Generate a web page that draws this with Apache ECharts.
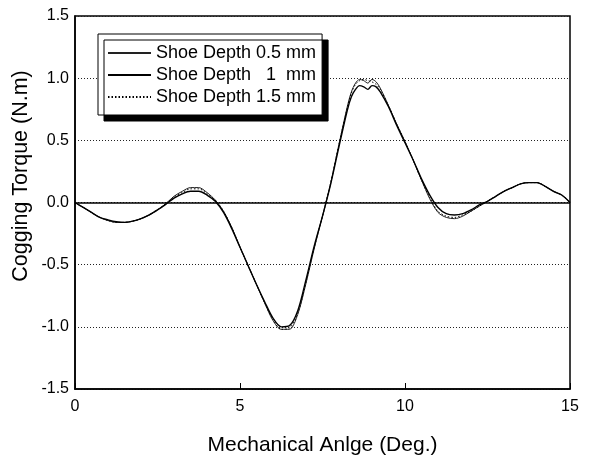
<!DOCTYPE html>
<html>
<head>
<meta charset="utf-8">
<script src="https://cdn.jsdelivr.net/npm/echarts@6/dist/echarts.min.js"></script>
<style>
  html, body { margin: 0; padding: 0; background: #fff; }
  #chart { width: 590px; height: 461px; }
</style>
</head>
<body>
<div id="chart"></div>
<script>
// Mechanical angle (deg), finer sampling around the main peak
const angles = [
  0, 0.25, 0.5, 0.75, 1, 1.25, 1.5, 1.75, 2, 2.25, 2.5, 2.75, 3, 3.25, 3.5, 3.75,
  4, 4.25, 4.5, 4.75, 5, 5.25, 5.5, 5.75, 6, 6.25, 6.5, 6.75, 7, 7.25, 7.5, 7.75,
  8, 8.25, 8.375, 8.5, 8.625, 8.75, 8.875, 9, 9.125, 9.25,
  9.5, 9.75, 10, 10.25, 10.5, 10.75, 11, 11.25, 11.5, 11.75, 12, 12.25, 12.5, 12.75,
  13, 13.25, 13.5, 13.75, 14, 14.25, 14.5, 14.75, 15
];

// Cogging torque (N.m) for each shoe depth
const torque05 = [
  0, -0.04, -0.08, -0.12, -0.145, -0.16, -0.16, -0.15, -0.13, -0.10, -0.06, -0.01, 0.05, 0.09, 0.12, 0.12,
  0.08, 0.02, -0.07, -0.20, -0.36, -0.51, -0.66, -0.81, -0.95, -1.02, -1.02, -0.90, -0.65, -0.37, -0.11, 0.16,
  0.47, 0.77, 0.89, 0.96, 0.99, 0.98, 0.96, 0.99, 0.97, 0.92,
  0.78, 0.63, 0.49, 0.34, 0.18, 0.03, -0.08, -0.12, -0.13, -0.11, -0.07, -0.03, 0.01, 0.05,
  0.09, 0.12, 0.15, 0.16, 0.16, 0.13, 0.09, 0.06, 0
];
const torque10 = [
  0, -0.04, -0.08, -0.12, -0.14, -0.155, -0.16, -0.15, -0.13, -0.10, -0.06, -0.015, 0.035, 0.07, 0.09, 0.09,
  0.06, 0.01, -0.08, -0.21, -0.36, -0.51, -0.66, -0.80, -0.93, -1.00, -0.99, -0.87, -0.62, -0.35, -0.11, 0.15,
  0.45, 0.74, 0.85, 0.91, 0.94, 0.93, 0.91, 0.94, 0.93, 0.89,
  0.77, 0.62, 0.48, 0.34, 0.19, 0.06, -0.04, -0.09, -0.10, -0.09, -0.06, -0.02, 0.01, 0.05,
  0.09, 0.12, 0.15, 0.16, 0.16, 0.13, 0.09, 0.06, 0
];
const torque15 = [
  0, -0.04, -0.08, -0.12, -0.145, -0.16, -0.16, -0.15, -0.13, -0.10, -0.06, -0.01, 0.045, 0.08, 0.11, 0.11,
  0.07, 0.02, -0.07, -0.20, -0.36, -0.51, -0.66, -0.81, -0.94, -1.02, -1.01, -0.89, -0.64, -0.36, -0.11, 0.16,
  0.47, 0.76, 0.88, 0.95, 0.98, 0.99, 0.98, 0.97, 0.95, 0.91,
  0.78, 0.63, 0.49, 0.34, 0.18, 0.04, -0.07, -0.11, -0.12, -0.10, -0.07, -0.03, 0.01, 0.05,
  0.09, 0.12, 0.15, 0.16, 0.16, 0.13, 0.09, 0.06, 0
];

const seriesNames = ['Shoe Depth 0.5 mm', 'Shoe Depth   1  mm', 'Shoe Depth 1.5 mm'];

const xTicks = { min: 0, max: 15, interval: 5 };
const yTicks = { min: -1.5, max: 1.5, interval: 0.5 };

const FONT = 'Arial, "Liberation Sans", sans-serif';

function pairs(vals) {
  return angles.map((a, i) => [a, vals[i]]);
}

const chart = echarts.init(document.getElementById('chart'), null, { renderer: 'canvas' });

chart.setOption({
  animation: false,
  backgroundColor: '#fff',
  grid: {
    left: 75, right: 20, top: 16, bottom: 72,
    show: true, borderColor: '#000', borderWidth: 1.5, backgroundColor: 'transparent'
  },
  legend: {
    orient: 'vertical',
    left: 98, top: 34,
    padding: [10, 6, 9, 9],
    itemWidth: 43, itemHeight: 14, itemGap: 4, itemTextGap: 5,
    backgroundColor: '#fff',
    borderColor: '#000', borderWidth: 1,
    shadowColor: '#000', shadowBlur: 0, shadowOffsetX: 6, shadowOffsetY: 6,
    itemStyle: { opacity: 0 },
    textStyle: { fontFamily: FONT, fontSize: 18, color: '#000' },
    data: seriesNames
  },
  // vertical y-axis title, placed slightly above the plot's centre line
  graphic: [{
    type: 'text',
    x: 21, y: 176,
    rotation: Math.PI / 2,
    style: {
      text: 'Cogging Torque (N.m)',
      fontFamily: FONT, fontSize: 21.5, fill: '#000',
      align: 'center', verticalAlign: 'middle'
    }
  }],
  xAxis: {
    type: 'value',
    min: xTicks.min, max: xTicks.max, interval: xTicks.interval,
    name: 'Mechanical Anlge (Deg.)',
    nameLocation: 'middle', nameGap: 46,
    nameTextStyle: { fontFamily: FONT, fontSize: 21, color: '#000' },
    axisLine: { show: true, onZero: false, lineStyle: { color: '#000', width: 1.5 } },
    axisTick: { show: true, inside: true, length: 6, lineStyle: { color: '#000', width: 1 } },
    axisLabel: { fontFamily: FONT, fontSize: 16, color: '#000', margin: 10 },
    splitLine: { show: false }
  },
  yAxis: {
    type: 'value',
    min: yTicks.min, max: yTicks.max, interval: yTicks.interval,
    axisLine: { show: true, onZero: false, lineStyle: { color: '#000', width: 1.5 } },
    axisTick: { show: false },
    axisLabel: {
      fontFamily: FONT, fontSize: 16, color: '#000', margin: 6,
      formatter: v => v.toFixed(1)
    },
    splitLine: { show: true, lineStyle: { color: '#222', width: 1, type: [1, 2] } }
  },
  series: [
    {
      name: seriesNames[0], type: 'line', data: pairs(torque05),
      symbol: 'none', smooth: 0.3,
      lineStyle: { color: '#222', width: 1 },
      itemStyle: { color: '#222' },
      markLine: {
        silent: true, symbol: 'none', label: { show: false },
        lineStyle: { color: '#000', width: 1.5, type: 'solid' },
        data: [{ yAxis: 0 }]
      },
      z: 3
    },
    {
      name: seriesNames[1], type: 'line', data: pairs(torque10),
      symbol: 'none', smooth: 0.3,
      lineStyle: { color: '#000', width: 1.4 },
      itemStyle: { color: '#000' },
      z: 4
    },
    {
      name: seriesNames[2], type: 'line', data: pairs(torque15),
      symbol: 'none', smooth: 0.3,
      lineStyle: { color: '#000', width: 1, type: [1.5, 2] },
      itemStyle: { color: '#000' },
      z: 5
    }
  ]
});
</script>
</body>
</html>
